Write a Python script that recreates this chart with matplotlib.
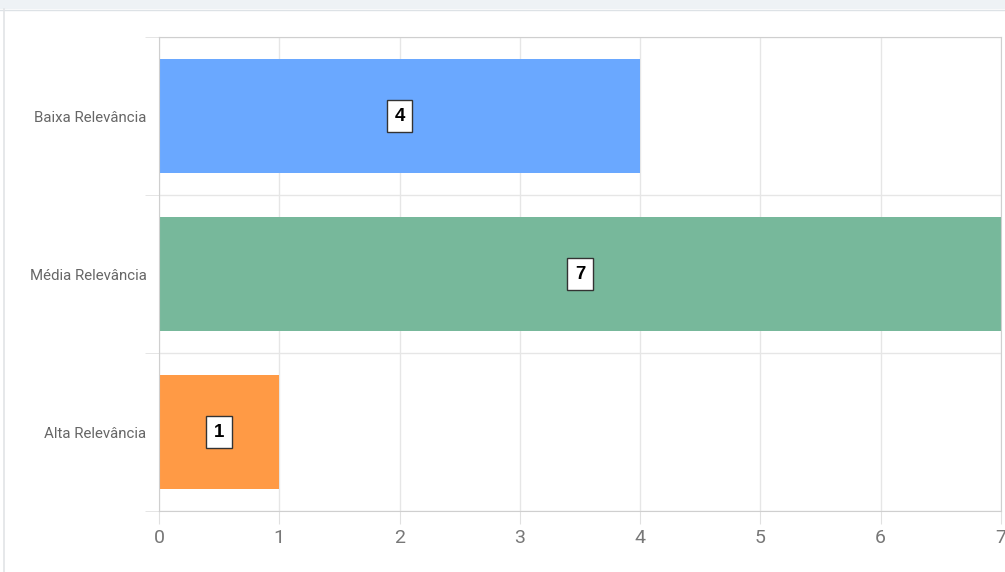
import matplotlib.pyplot as plt
from matplotlib.patches import Rectangle
from matplotlib.lines import Line2D

# dados
categorias = ['Baixa Relevância', 'Média Relevância', 'Alta Relevância']
valores = [4, 7, 1]
cores = ['#6aa8ff', '#77b89b', '#ff9a45']

plt.rcParams['font.family'] = ['Roboto', 'DejaVu Sans']

fig = plt.figure(figsize=(10.05, 5.72), dpi=100)
fig.patch.set_facecolor('white')

# faixa cinza no topo e borda esquerda
fig.patches.append(Rectangle((0, 1 - 9/572), 1, 9/572, transform=fig.transFigure,
                             facecolor='#eef2f5', edgecolor='none'))
fig.lines.append(Line2D([0, 1], [1 - 9.5/572, 1 - 9.5/572], transform=fig.transFigure,
                        color='#dde2e6', lw=1))
fig.lines.append(Line2D([4/1005, 4/1005], [0, 1 - 9/572], transform=fig.transFigure,
                        color='#e2e4e6', lw=1.2))

ax = fig.add_axes([159/1005, 1 - 511/572, 842/1005, 474/572])

y = list(range(len(categorias)))
ax.barh(y, valores, height=0.72, color=cores, zorder=2)
ax.set_ylim(2.5, -0.5)
ax.set_xlim(0, 7)

for yi, v in zip(y, valores):
    ax.text(v / 2, yi, str(v), ha='center', va='center', fontsize=13.5, fontweight='bold',
            family='Liberation Sans', color='black', zorder=3,
            bbox=dict(boxstyle='square,pad=0.4', facecolor='white', edgecolor='#333333', lw=1))

ax.set_yticks(y)
ax.set_yticklabels(categorias, fontsize=10.8, color='#666666')
ax.set_yticks([-0.5, 0.5, 1.5, 2.5], minor=True)
ax.tick_params(axis='y', which='major', length=0, pad=9)
ax.tick_params(axis='y', which='minor', length=10, color='#e0e0e0')
ax.grid(axis='y', which='minor', color='#e6e6e6', lw=1, zorder=0)

ax.set_xticks(range(0, 8))
ax.tick_params(axis='x', length=9, color='#e0e0e0', labelsize=14, labelcolor='#777777', pad=4)
ax.grid(axis='x', which='major', color='#e6e6e6', lw=1, zorder=0)

for s in ['top', 'bottom', 'left', 'right']:
    ax.spines[s].set_color('#cfcfcf')

fig.savefig('out.png', dpi=100)
